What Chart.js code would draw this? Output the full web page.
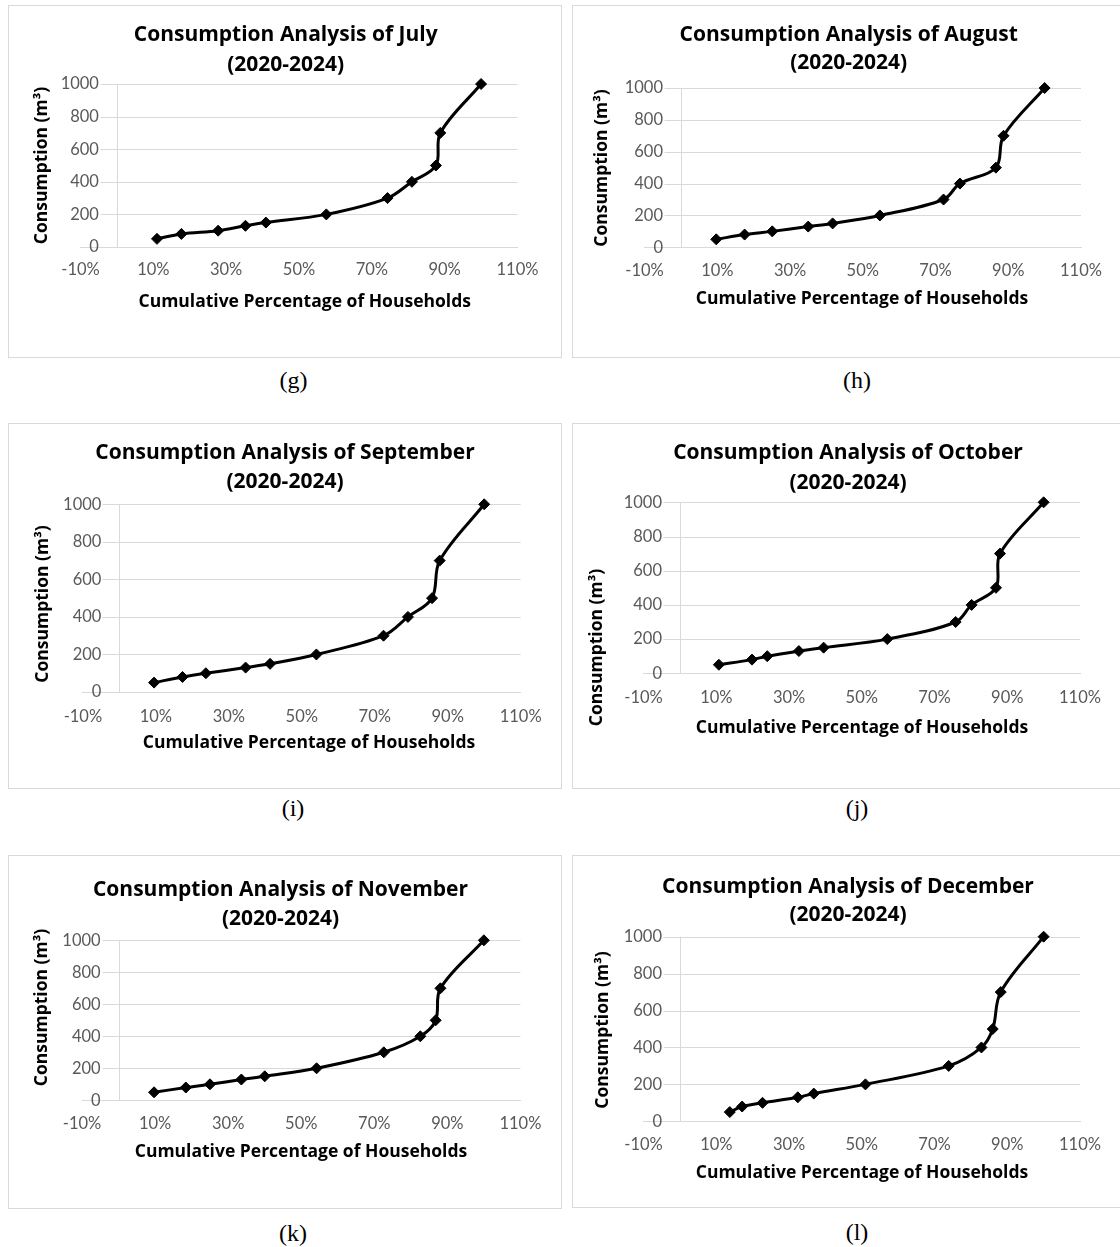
<!DOCTYPE html>
<html lang="en">
<head>
<meta charset="UTF-8">
<title>Consumption Analysis (2020-2024)</title>
<script src="https://cdn.jsdelivr.net/npm/chart.js"></script>
<style>
    html, body {
        margin: 0;
        padding: 0;
        background: #fff;
    }
    body {
        position: relative;
        width: 1120px;
        height: 1247px;
        overflow: hidden;
        font-family: Lato, sans-serif;
    }
    .frame {
        position: absolute;
        border: 1px solid #d9d9d9;
        box-sizing: border-box;
    }
    canvas {
        position: absolute;
    }
    .caption {
        position: absolute;
        transform: translate(-50%, -50%);
        font-family: "Liberation Serif", "Times New Roman", serif;
        font-size: 24px;
        color: #000;
    }
</style>
</head>
<body>
<script>
    // y values are the same consumption bands in every month
    const consumption = [50, 80, 100, 130, 150, 200, 300, 400, 500, 700, 1000];

    // cumulative % of households
    const julyPct      = [11.0, 17.7, 27.8, 35.3, 40.9, 57.5, 74.3, 81.0, 87.6, 88.8, 100];
    const augustPct    = [9.7, 17.5, 25.1, 35.0, 41.7, 54.7, 72.2, 76.7, 86.6, 88.7, 100];
    const septemberPct = [9.5, 17.3, 23.7, 34.6, 41.3, 54.0, 72.4, 79.1, 85.7, 87.8, 100];
    const octoberPct   = [10.7, 19.8, 24.0, 32.7, 39.5, 57.0, 75.8, 80.2, 86.9, 88.0, 100];
    const novemberPct  = [9.7, 18.4, 25.0, 33.6, 40.0, 54.2, 72.6, 82.6, 86.8, 88.1, 100];
    const decemberPct  = [13.7, 17.1, 22.7, 32.4, 36.8, 51.0, 73.9, 82.9, 86.0, 88.2, 100];

    const months = ['July', 'August', 'September', 'October', 'November', 'December'];
    const series = [julyPct, augustPct, septemberPct, octoberPct, novemberPct, decemberPct];
    const captions = ['(g)', '(h)', '(i)', '(j)', '(k)', '(l)'];
    const period = '(2020-2024)';

    const xTicks = [-10, 10, 30, 50, 70, 90, 110];
    const yTicks = [0, 200, 400, 600, 800, 1000];

    // page layout of each panel (frame, plot area, text anchors)
    const panels = [
        { box: [8, 5, 562, 358],    plot: [80.5, 84, 517.5, 247],    title: [285.7, 35, 65],     xLab: 270,   xTitle: [304.7, 302],   yTitle: [41.7, 165.5],  cap: [293.5, 380] },
        { box: [572, 5, 1130, 358], plot: [644.6, 88, 1081, 247.3],  title: [848.7, 35, 63.5],   xLab: 270.5, xTitle: [862, 299],     yTitle: [602, 168],     cap: [857, 380] },
        { box: [8, 423, 562, 789],  plot: [82.9, 504.3, 520.7, 692], title: [285, 453.3, 481.7], xLab: 716.7, xTitle: [309, 743.3],   yTitle: [42.9, 604],    cap: [293, 808] },
        { box: [572, 423, 1130, 789], plot: [643.6, 502.3, 1080, 673.3], title: [848, 453.3, 482.7], xLab: 697.3, xTitle: [862, 728.3], yTitle: [596.9, 647.5], cap: [857, 808] },
        { box: [8, 855, 562, 1209], plot: [82.1, 940.3, 520.4, 1100.3], title: [280.5, 890, 919.3], xLab: 1124, xTitle: [301, 1151.7], yTitle: [42.1, 1007.5], cap: [293, 1233] },
        { box: [572, 855, 1130, 1208], plot: [643.6, 936.7, 1080, 1121.3], title: [848, 886.7, 915], xLab: 1145, xTitle: [862, 1173.3], yTitle: [603.2, 1030], cap: [857, 1232] }
    ];

    const GRID = '#d9d9d9';
    const TICK_COLOR = '#595959';
    const TICK_FONT = {family: 'Lato', size: 16.5};
    const LABEL_GAP = 18; // px between y labels and the 0% axis

    // Excel style grid: horizontal lines run from the y labels to the right edge,
    // vertical axis line at x = 0%
    const excelGrid = {
        id: 'excelGrid',
        beforeDatasetsDraw(chart) {
            const {ctx, chartArea, scales: {x, y}} = chart;
            const x0 = Math.round(x.getPixelForValue(0)) + 0.5;
            ctx.save();
            ctx.strokeStyle = GRID;
            ctx.lineWidth = 1;
            ctx.beginPath();
            y.ticks.forEach(t => {
                if (t.value === 0) return;
                const py = Math.round(y.getPixelForValue(t.value)) + 0.5;
                ctx.moveTo(x0 - LABEL_GAP + 1, py);
                ctx.lineTo(chartArea.right, py);
            });
            ctx.moveTo(x0, y.getPixelForValue(y.min));
            ctx.lineTo(x0, y.getPixelForValue(y.max));
            ctx.stroke();
            ctx.restore();
        }
    };

    // chart title and axis titles
    const panelText = {
        id: 'panelText',
        afterDraw(chart, args, o) {
            const ctx = chart.ctx;
            ctx.save();
            ctx.fillStyle = '#000';
            ctx.textAlign = 'center';
            ctx.textBaseline = 'middle';
            ctx.font = 'bold 21px "Open Sans"';
            o.title.forEach((line, i) => ctx.fillText(line, o.titleX, o.titleY[i]));
            ctx.font = 'bold 17.5px "Open Sans"';
            ctx.fillText(o.xTitle, o.xTitleX, o.xTitleY);
            ctx.translate(o.yTitleX, o.yTitleY);
            ctx.rotate(-Math.PI / 2);
            ctx.fillText(o.yTitle, 0, 0);
            ctx.restore();
        }
    };

    panels.forEach((p, i) => {
        const [bl, bt, br, bb] = p.box;
        const [pl, pt, pr, pb] = p.plot;
        const w = br - bl, h = bb - bt;

        const frame = document.createElement('div');
        frame.className = 'frame';
        Object.assign(frame.style, {left: bl + 'px', top: bt + 'px', width: w + 'px', height: h + 'px'});
        document.body.appendChild(frame);

        const cv = document.createElement('canvas');
        cv.width = w;
        cv.height = h;
        Object.assign(cv.style, {left: bl + 'px', top: bt + 'px', width: w + 'px', height: h + 'px'});
        document.body.appendChild(cv);

        const cap = document.createElement('div');
        cap.className = 'caption';
        cap.textContent = captions[i];
        Object.assign(cap.style, {left: p.cap[0] + 'px', top: p.cap[1] + 'px'});
        document.body.appendChild(cap);

        // y labels sit right-aligned just left of the 0% axis
        const pctPerPx = 120 / (pr - pl);
        const yLabelAt = -LABEL_GAP * pctPerPx;

        new Chart(cv, {
            type: 'line',
            data: {
                datasets: [{
                    data: series[i].map((v, k) => ({x: v, y: consumption[k]})),
                    borderColor: '#000',
                    borderWidth: 3,
                    tension: 0.35,
                    pointStyle: 'rectRot',
                    pointRadius: 5.5,
                    pointBackgroundColor: '#000',
                    pointBorderColor: '#000',
                    pointBorderWidth: 1,
                    clip: false
                }]
            },
            options: {
                responsive: false,
                animation: false,
                events: [],
                layout: {
                    padding: {left: pl - bl, top: pt - bt, right: br - pr, bottom: bb - pb}
                },
                plugins: {
                    legend: {display: false},
                    tooltip: {enabled: false},
                    panelText: {
                        title: ['Consumption Analysis of ' + months[i], period],
                        titleX: p.title[0] - bl,
                        titleY: [p.title[1] - bt, p.title[2] - bt],
                        xTitle: 'Cumulative Percentage of Households',
                        xTitleX: p.xTitle[0] - bl,
                        xTitleY: p.xTitle[1] - bt,
                        yTitle: 'Consumption (m\u00b3)',
                        yTitleX: p.yTitle[0] - bl,
                        yTitleY: p.yTitle[1] - bt
                    }
                },
                scales: {
                    x: {
                        type: 'linear',
                        min: -10,
                        max: 110,
                        position: {y: 0},
                        afterBuildTicks: s => { s.ticks = xTicks.map(v => ({value: v})); },
                        ticks: {
                            callback: v => v + '%',
                            color: TICK_COLOR,
                            font: TICK_FONT,
                            padding: p.xLab - pb - 10
                        },
                        grid: {display: false, drawTicks: false},
                        border: {display: true, color: GRID, width: 1}
                    },
                    y: {
                        type: 'linear',
                        min: 0,
                        max: 1000,
                        position: {x: yLabelAt},
                        afterBuildTicks: s => { s.ticks = yTicks.map(v => ({value: v})); },
                        ticks: {
                            callback: v => String(v),
                            color: TICK_COLOR,
                            font: TICK_FONT,
                            padding: 0
                        },
                        grid: {display: false, drawTicks: false},
                        border: {display: false}
                    }
                }
            },
            plugins: [excelGrid, panelText]
        });
    });
</script>
</body>
</html>
